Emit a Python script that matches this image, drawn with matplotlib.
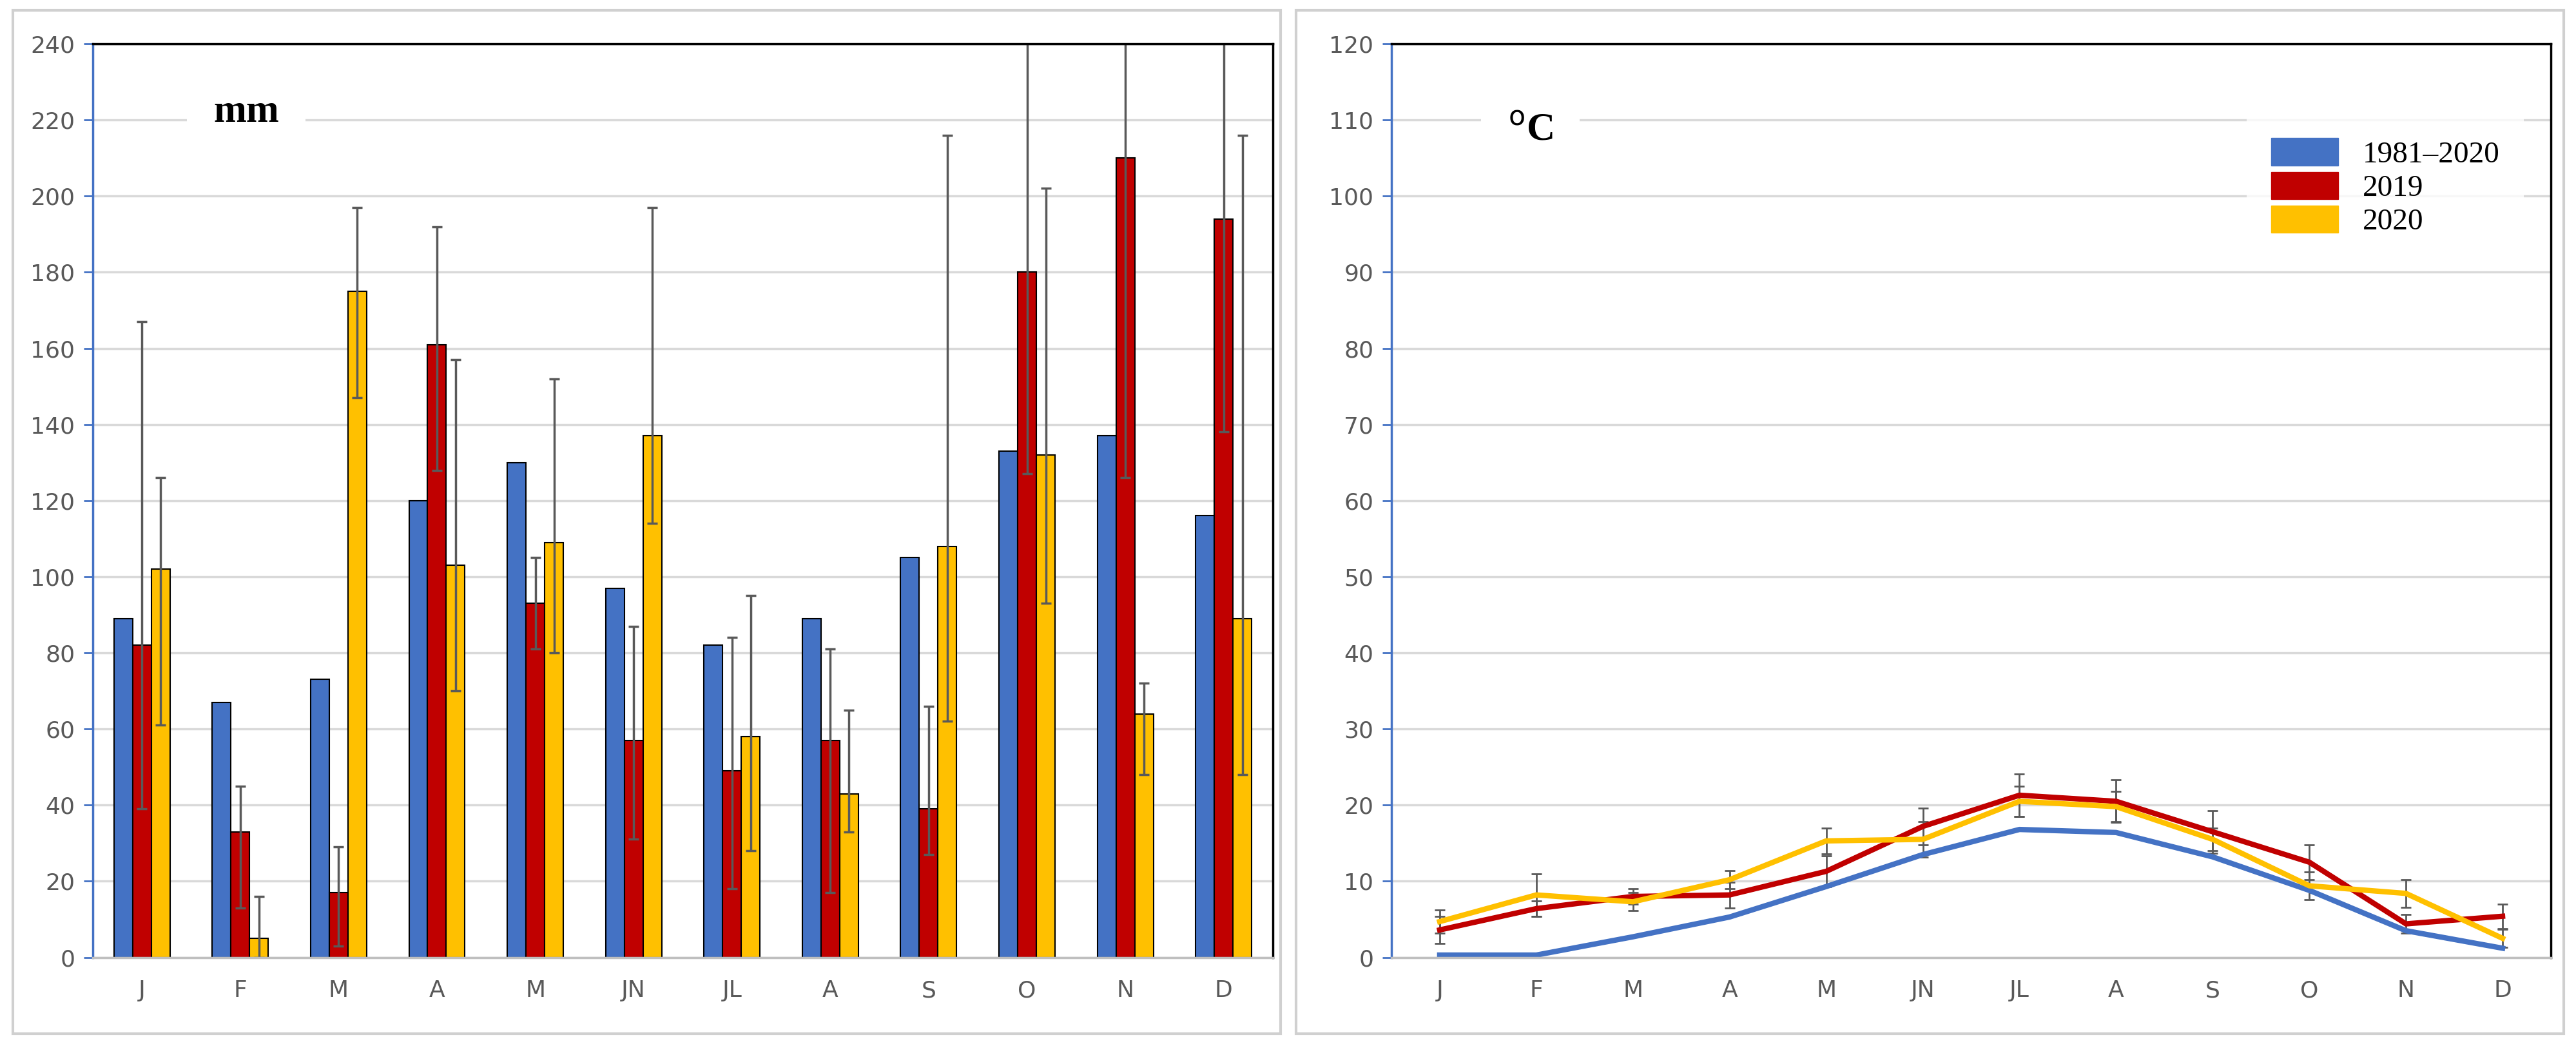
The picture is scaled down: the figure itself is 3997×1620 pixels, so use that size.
import matplotlib
matplotlib.use("Agg")
import matplotlib.pyplot as plt
import numpy as np
from matplotlib.patches import Rectangle

months = ["J","F","M","A","M","JN","JL","A","S","O","N","D"]
prec_clim = [89,67,73,120,130,97,82,89,105,133,137,116]
prec_2019 = [82,33,17,161,93,57,49,57,39,180,210,194]
prec_2020 = [102,5,175,103,109,137,58,43,108,132,64,89]
p19_lo = [39,13,3,128,81,31,18,17,27,127,126,138]
p19_hi = [167,45,29,192,105,87,84,81,66,260,260,260]
p20_lo = [61,0,147,70,80,114,28,33,62,93,48,48]
p20_hi = [126,16,197,157,152,197,95,65,216,202,72,216]

temp_clim = [0.3,0.3,2.7,5.3,9.3,13.5,16.8,16.4,13.2,8.8,3.5,1.2]
temp_2019 = [3.6,6.4,8.0,8.2,11.3,17.2,21.3,20.5,16.5,12.5,4.4,5.4]
temp_2020 = [4.7,8.2,7.3,10.2,15.3,15.5,20.5,19.8,15.5,9.4,8.4,2.5]
t19_err = [1.8,1.0,1.0,1.7,2.0,2.4,2.8,2.8,2.8,2.3,1.2,1.6]
t20_err = [1.5,2.8,1.2,1.2,1.7,2.3,2.0,2.0,1.5,1.8,1.8,1.2]

BLUE, RED, YEL = "#4472C4", "#C00000", "#FFC000"
fig = plt.figure(figsize=(39.98, 16.2), dpi=100)
for x0 in (0.005, 0.503):
    fig.patches.append(Rectangle((x0, 0.01), 0.492, 0.98, transform=fig.transFigure,
                                 fill=False, edgecolor="#d0d0d0", lw=3))

def style(ax, ymax, step):
    ax.set_ylim(0, ymax)
    ax.set_yticks(np.arange(0, ymax + 1, step))
    ax.set_xlim(-0.5, 11.5)
    ax.set_xticks(range(12))
    ax.set_xticklabels(months)
    ax.grid(axis="y", color="#d9d9d9", lw=2.5)
    ax.set_axisbelow(True)
    ax.tick_params(colors="#595959", labelsize=26, length=0, pad=25)
    ax.tick_params(axis="y", length=10, color=BLUE, width=2, pad=10)
    ax.spines["left"].set_color(BLUE); ax.spines["left"].set_linewidth(2.5)
    ax.spines["bottom"].set_color("#bfbfbf"); ax.spines["bottom"].set_linewidth(2.5)
    for s in ("top", "right"):
        ax.spines[s].set_color("black"); ax.spines[s].set_linewidth(2.5)

ax1 = fig.add_axes([0.036, 0.083, 0.458, 0.875])
x = np.arange(12); w = 0.19
ek = dict(ecolor="#595959", elinewidth=2.5, capsize=6, capthick=2.5)
ax1.bar(x - w, prec_clim, w, color=BLUE, edgecolor="black", lw=1.5)
ax1.bar(x, prec_2019, w, color=RED, edgecolor="black", lw=1.5,
        yerr=[np.array(prec_2019) - np.array(p19_lo), np.array(p19_hi) - np.array(prec_2019)], error_kw=ek)
ax1.bar(x + w, prec_2020, w, color=YEL, edgecolor="black", lw=1.5,
        yerr=[np.array(prec_2020) - np.array(p20_lo), np.array(p20_hi) - np.array(prec_2020)], error_kw=ek)
style(ax1, 240, 20)
ax1.text(0.13, 0.925, "mm", transform=ax1.transAxes, fontsize=44, fontweight="bold",
         family="Liberation Serif", ha="center", va="center",
         bbox=dict(facecolor="white", edgecolor="none", pad=30))

ax2 = fig.add_axes([0.540, 0.083, 0.450, 0.875])
ax2.errorbar(x, temp_2019, yerr=t19_err, color=RED, lw=6, ecolor="#595959", elinewidth=2, capsize=6, capthick=2)
ax2.errorbar(x, temp_2020, yerr=t20_err, color=YEL, lw=6, ecolor="#595959", elinewidth=2, capsize=6, capthick=2)
ax2.plot(x, temp_clim, color=BLUE, lw=6)
style(ax2, 120, 10)
ax2.text(0.12, 0.905, "$^{\\mathrm{o}}$C", transform=ax2.transAxes, fontsize=44, fontweight="bold",
         family="Liberation Serif", ha="center", va="center",
         bbox=dict(facecolor="white", edgecolor="none", pad=30))
hs = [Rectangle((0, 0), 1, 1, color=c) for c in (BLUE, RED, YEL)]
ax2.legend(hs, ["1981–2020", "2019", "2020"], loc="upper right", bbox_to_anchor=(0.99, 0.94),
           frameon=True, edgecolor="none", fancybox=False, prop=dict(family="Liberation Serif", size=34),
           handlelength=2.2, handleheight=1.0, labelspacing=0.1, borderpad=0.8)

fig.savefig("out.png", dpi=100)
